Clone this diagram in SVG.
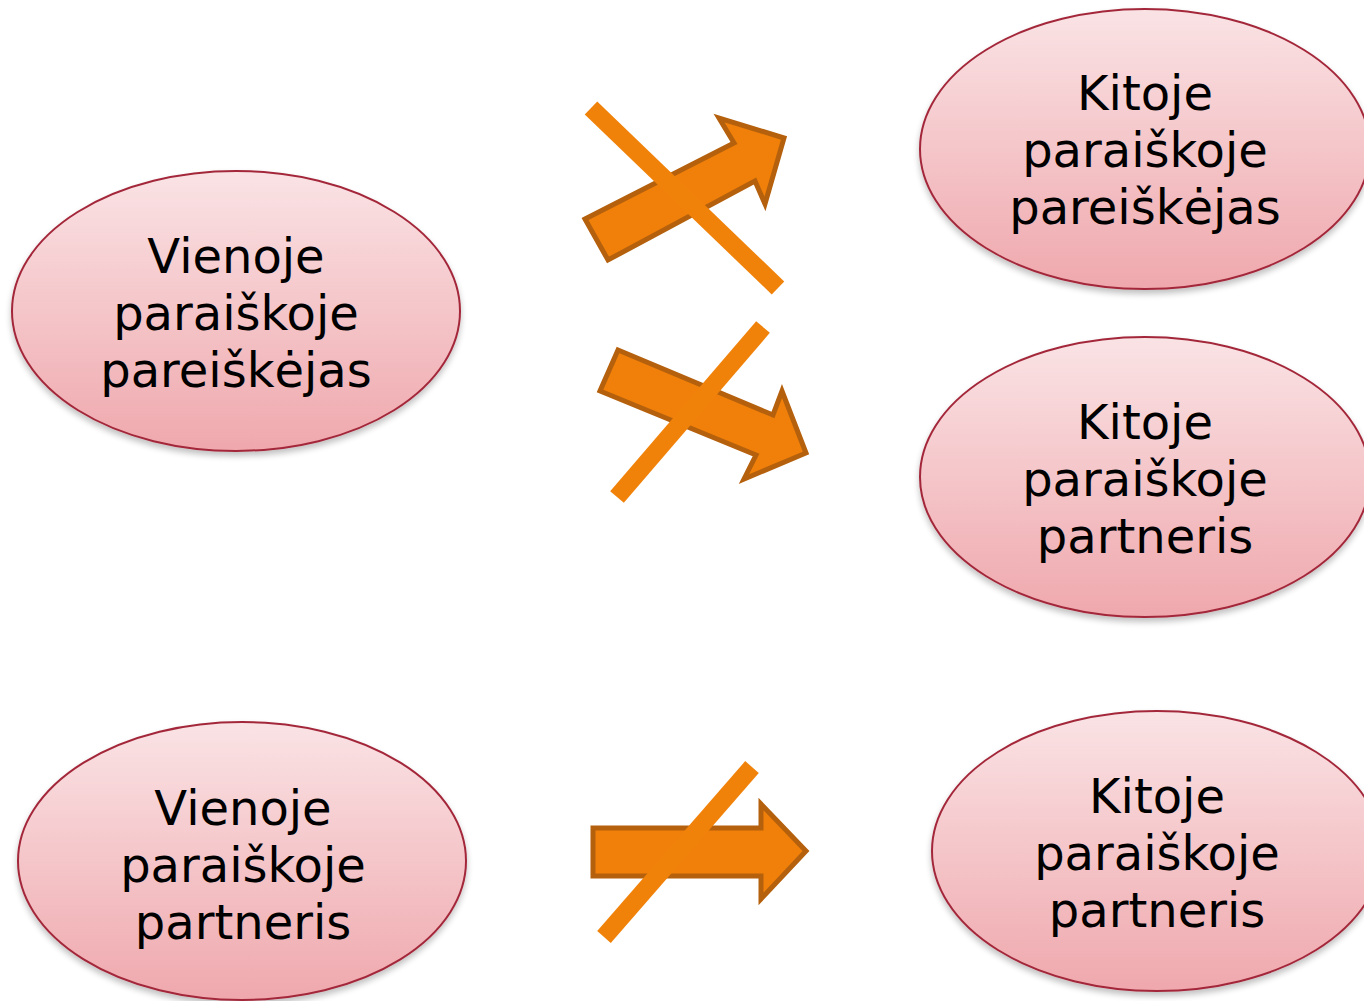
<svg xmlns="http://www.w3.org/2000/svg" width="1364" height="1001" viewBox="0 0 1364 1001">
<defs>
<linearGradient id="g" x1="0" y1="0" x2="0" y2="1">
<stop offset="0" stop-color="#fae3e5"/>
<stop offset="1" stop-color="#efa8ad"/>
</linearGradient>
<filter id="sh" x="-10%" y="-10%" width="120%" height="130%">
<feGaussianBlur in="SourceAlpha" stdDeviation="3"/>
<feOffset dy="4"/>
<feComponentTransfer><feFuncA type="linear" slope="0.25"/></feComponentTransfer>
<feMerge><feMergeNode/><feMergeNode in="SourceGraphic"/></feMerge>
</filter>
</defs>
<style>
.node ellipse{fill:url(#g);stroke:#a3283a;stroke-width:2;filter:url(#sh)}
.node text{font-family:"DejaVu Sans",Verdana,sans-serif;font-size:48px;fill:#000;text-anchor:middle}
.arrow{fill:#f0800a;stroke:#b5600c;stroke-width:5;stroke-linejoin:miter}
.cross{stroke:#f0820a;stroke-width:18;fill:none}
</style>
<rect width="1364" height="1001" fill="#fff"/>
<g id="n1" class="node">
<ellipse cx="236" cy="311" rx="224" ry="140"/>
<text x="236" y="273">Vienoje</text>
<text x="236" y="330">paraiškoje</text>
<text x="236" y="387">pareiškėjas</text>
</g>
<g id="n2" class="node">
<ellipse cx="242" cy="861" rx="224" ry="139"/>
<text x="243" y="825">Vienoje</text>
<text x="243" y="882">paraiškoje</text>
<text x="243" y="939">partneris</text>
</g>
<g id="n3" class="node">
<ellipse cx="1145" cy="149" rx="225" ry="140"/>
<text x="1145" y="110">Kitoje</text>
<text x="1145" y="167">paraiškoje</text>
<text x="1145" y="224">pareiškėjas</text>
</g>
<g id="n4" class="node">
<ellipse cx="1145" cy="477" rx="225" ry="140"/>
<text x="1145" y="439">Kitoje</text>
<text x="1145" y="496">paraiškoje</text>
<text x="1145" y="553">partneris</text>
</g>
<g id="n5" class="node">
<ellipse cx="1157" cy="851" rx="225" ry="140"/>
<text x="1157" y="813">Kitoje</text>
<text x="1157" y="870">paraiškoje</text>
<text x="1157" y="927">partneris</text>
</g>
<g id="connectors">
<polygon class="arrow" points="585,219 734,143 719,118 784,138 765,204 755,181 608,260"/>
<line class="cross" x1="591" y1="108" x2="778" y2="288"/>
<polygon class="arrow" points="618,350 773,415 782,391 806,453 744,479 756,455 600,391"/>
<line class="cross" x1="763" y1="327" x2="617" y2="497"/>
<polygon class="arrow" points="593,828 761,828 761,804 806,851 761,899 761,876 593,876"/>
<line class="cross" x1="752" y1="767" x2="604" y2="937"/>
</g>
</svg>
